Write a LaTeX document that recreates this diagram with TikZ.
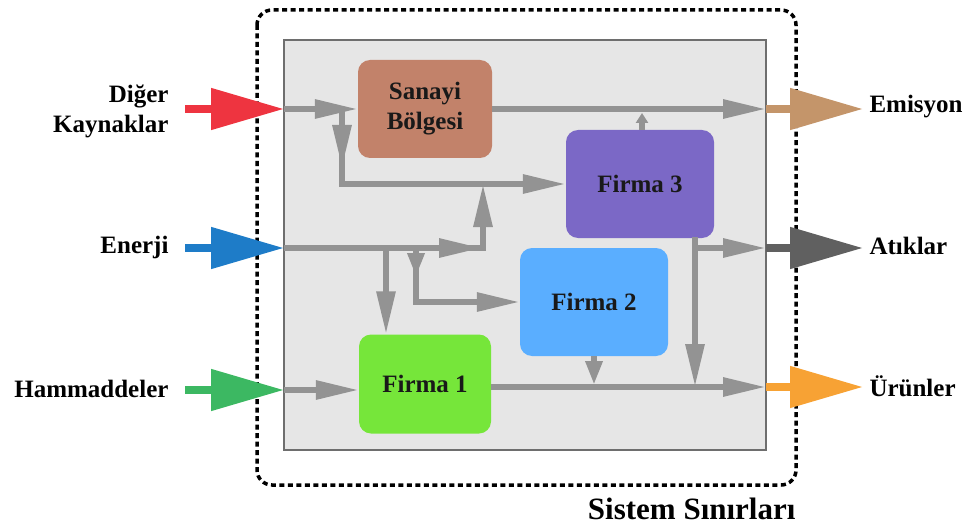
\documentclass[tikz,border=0pt]{standalone}
\usepackage{fontspec}
\setmainfont{Liberation Serif}
\usetikzlibrary{arrows.meta,decorations.markings,calc}

\definecolor{flowgray}{HTML}{939393}
\definecolor{panelgray}{HTML}{E6E6E6}
\definecolor{panelline}{HTML}{6E6E6E}
\definecolor{sanayicol}{HTML}{C2826A}
\definecolor{firmaA}{HTML}{76E63A}
\definecolor{firmaB}{HTML}{5AAEFF}
\definecolor{firmaC}{HTML}{7B68C6}
\definecolor{incA}{HTML}{EE3440}
\definecolor{incB}{HTML}{1E7CC8}
\definecolor{incC}{HTML}{3CB862}
\definecolor{outA}{HTML}{C4956A}
\definecolor{outB}{HTML}{606060}
\definecolor{outC}{HTML}{F7A234}

\begin{document}
\begin{tikzpicture}[x=1pt,y=-1pt,
  every node/.style={font=\fontsize{25}{30}\selectfont\bfseries},
  unit/.style={rounded corners=12pt, inner sep=0pt, align=center, text=black!90},
  flow/.style={draw=flowgray, line width=6pt},
  gh/.tip={Triangle[length=43pt,width=18pt,color=flowgray,fill=flowgray]},
  gs/.tip={Triangle[length=24pt,width=16pt,color=flowgray,fill=flowgray]},
  gt/.tip={Triangle[length=10pt,width=12pt,color=flowgray,fill=flowgray]},
  midhead/.style={postaction=decorate,
    decoration={markings, mark=at position #1 with {\arrow{gh}}}},
  midshort/.style={postaction=decorate,
    decoration={markings, mark=at position #1 with {\arrow{gs}}}},
  bigflow/.style={line width=8pt, -{Triangle[length=73pt,width=40pt]}},
  tag/.style={text=black}
]
\useasboundingbox (0,0) rectangle (969,524);

% system boundary and plant area
\draw[line width=3.5pt, dash pattern=on 5pt off 3.5pt, rounded corners=15pt]
  (257,10) rectangle (796,485);
\draw[panelline, fill=panelgray, line width=1.5pt] (284,40) rectangle (766,450);

% units
\node[unit, fill=sanayicol, minimum width=134pt, minimum height=98pt] (san) at (425,109) {Sanayi\\Bölgesi};
\node[unit, fill=firmaC, minimum width=148pt, minimum height=108pt] (f3) at (640,184) {Firma 3};
\node[unit, fill=firmaB, minimum width=148pt, minimum height=108pt] (f2) at (594,302) {Firma 2};
\node[unit, fill=firmaA, minimum width=132pt, minimum height=99pt] (f1) at (425,384) {Firma 1};

% boundary crossing points
\coordinate (in1) at (284,109);
\coordinate (in2) at (284,248);
\coordinate (in3) at (284,390);
\coordinate (out1) at (766,109);
\coordinate (out2) at (766,248);
\coordinate (out3) at (766,387);

% junctions
\coordinate (b1) at (342,109);
\coordinate (m1) at (483,184);
\coordinate (d1) at (386,248);
\coordinate (e1) at (416,248);
\coordinate (i1) at (695,237);
\coordinate (l1) at (642,130);

% internal flows
\draw[flow,-{gh}] (in1) -- (san.west);
\draw[flow,-{gh},midhead=59pt] (b1) |- (f3.west);
\draw[flow,-{gh},midhead=198pt] (in2) -| (m1);
\draw[flow,-{gh}] (d1) -- (d1 |- f1.north);
\draw[flow,-{gh},midshort=29pt] (e1) |- (f2.west);
\draw[flow,-{gh}] (in3) -- (in3 -| f1.west);
\draw[flow,-{gh}] (f1.east |- out3) -- (out3);
\draw[flow,-{gs}] (f2.south) -- ($(f2.south |- out3)+(0,-2)$);
\draw[flow,-{gh}] (i1) -- (i1 |- out3);
\draw[flow,-{gh}] (i1 |- out2) -- (out2);
\draw[flow,-{gh}] (san.east) -- (out1);
\draw[flow,-{gt}] (l1) -- ++(0,-17);

% inputs
\coordinate (s1) at (185,109);
\coordinate (s2) at (185,248);
\coordinate (s3) at (185,390);
\draw[bigflow, incA] (s1) -- (in1);
\draw[bigflow, incB] (s2) -- (in2);
\draw[bigflow, incC] (s3) -- (in3);
\node[tag, anchor=east, align=right] (lin1) at (172,111) {Diğer\\Kaynaklar};
\node[tag, anchor=east] (lin2) at (172,247) {Enerji};
\node[tag, anchor=east] (lin3) at (172,389) {Hammaddeler};

% outputs
\coordinate (t1) at (863,109);
\coordinate (t2) at (863,248);
\coordinate (t3) at (863,387);
\draw[bigflow, outA] (out1) -- (t1);
\draw[bigflow, outB] (out2) -- (t2);
\draw[bigflow, outC] (out3) -- (t3);
\node[tag, anchor=west] (lout1) at (866,107) {Emisyon};
\node[tag, anchor=west] (lout2) at (866,246) {Atıklar};
\node[tag, anchor=west] (lout3) at (866,386) {Ürünler};

\node[tag, anchor=base east, font=\fontsize{31}{36}\selectfont\bfseries] (sys) at (799,519) {Sistem Sınırları};
\end{tikzpicture}
\end{document}
